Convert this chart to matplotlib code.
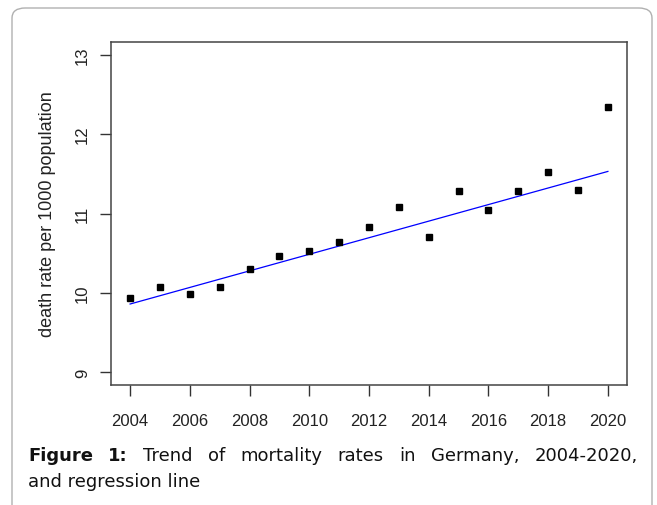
import matplotlib.pyplot as plt
from matplotlib.patches import FancyBboxPatch

years = [2004, 2005, 2006, 2007, 2008, 2009, 2010, 2011, 2012,
         2013, 2014, 2015, 2016, 2017, 2018, 2019, 2020]
death_rate = [9.94, 10.08, 9.99, 10.07, 10.30, 10.46, 10.53, 10.64, 10.83,
              11.08, 10.71, 11.28, 11.05, 11.28, 11.52, 11.30, 12.34]
# regression line (ends)
reg_years = [2004, 2020]
reg_values = [9.86, 11.53]
x_ticks = list(range(2004, 2021, 2))
y_ticks = [9, 10, 11, 12, 13]
y_label = "death rate per 1000 population"
caption_line1 = ["Figure", "1:", "Trend", "of", "mortality", "rates", "in",
                 "Germany,", "2004-2020,"]
caption_line2 = "and regression line"

plt.rcParams['font.family'] = ['Liberation Sans', 'DejaVu Sans']

fig = plt.figure(figsize=(6.57, 5.06), dpi=100)
ax = fig.add_axes([111/657, 1 - 386/506, (627-111)/657, (386-43)/506])

ax.plot(reg_years, reg_values, color='blue', lw=0.9)
ax.plot(years, death_rate, 's', color='black', ms=4.5, mec='black')

ax.set_xlim(2004 - 0.04 * 16, 2020 + 0.04 * 16)
ax.set_ylim(9 - 0.04 * 4, 13 + 0.04 * 4)
ax.set_xticks(x_ticks)
ax.set_yticks(y_ticks)
ax.set_yticklabels([str(t) for t in y_ticks], rotation=90, va='center')
ax.tick_params(axis='both', direction='out', length=8, width=1, color='#333333',
               labelsize=12, labelcolor='#222222')
ax.tick_params(axis='x', pad=12)
ax.tick_params(axis='y', pad=7)
for s in ax.spines.values():
    s.set_color('#444444')
    s.set_linewidth(1.1)
ax.set_ylabel(y_label, fontsize=13, color='#222222', labelpad=14)

# frame around the figure
box = FancyBboxPatch((12/657, -0.05), (652-12)/657, 1 - 9/506 + 0.05,
                     boxstyle="round,pad=0,rounding_size=0.02",
                     transform=fig.transFigure, fill=False,
                     edgecolor='#b0b0b0', lw=1.0, clip_on=False)
fig.patches.append(box)

# justified first caption line
fig.canvas.draw()
renderer = fig.canvas.get_renderer()
words = []
for i, w in enumerate(caption_line1):
    t = fig.text(0, 1 - 456/506, w, fontsize=13, family='DejaVu Sans',
                 fontweight='bold' if i < 2 else 'normal',
                 va='center', ha='left', color='#111111')
    words.append(t)
widths = [t.get_window_extent(renderer).width for t in words]
left, right = 28, 638
gap = (right - left - sum(widths)) / (len(words) - 1)
x = left
for t, w in zip(words, widths):
    t.set_x(x / 657)
    x += w + gap

fig.text(28/657, 1 - 482/506, caption_line2, fontsize=13,
         family='DejaVu Sans', va='center', ha='left', color='#111111')

fig.savefig('out.png', dpi=100)
